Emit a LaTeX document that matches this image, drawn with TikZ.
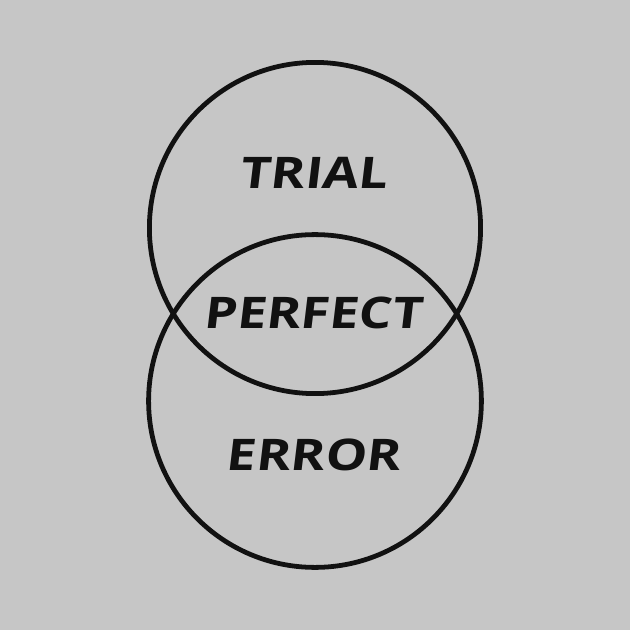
\documentclass[tikz,border=0pt]{standalone}
\usepackage{fontspec}
\setmainfont{Open Sans}
\definecolor{shirtgray}{RGB}{198,198,198}
\definecolor{inkblack}{RGB}{17,17,17}

\begin{document}
\begin{tikzpicture}[x=1cm,y=1cm,
  ring/.style={draw=inkblack,line width=3.4pt},
  word/.style={text=inkblack,font=\fontsize{31}{36}\selectfont\bfseries,xscale=1.2,xslant=0.1,inner sep=0pt}]

% Background
\fill[shirtgray] (-7.875,-7.875) rectangle (7.875,7.875);
\useasboundingbox (-7.875,-7.875) rectangle (7.875,7.875);

% Two circles
\draw[ring] (0,2.175) circle (4.14);
\draw[ring] (0,-2.15) circle (4.16);

% Labels
\node[word] (trial) at (0,3.55) {TRIAL};
\node[word] (perfect) at (-0.02,0.04) {PERFECT};
\node[word] (error) at (0,-3.5) {ERROR};

\end{tikzpicture}
\end{document}
